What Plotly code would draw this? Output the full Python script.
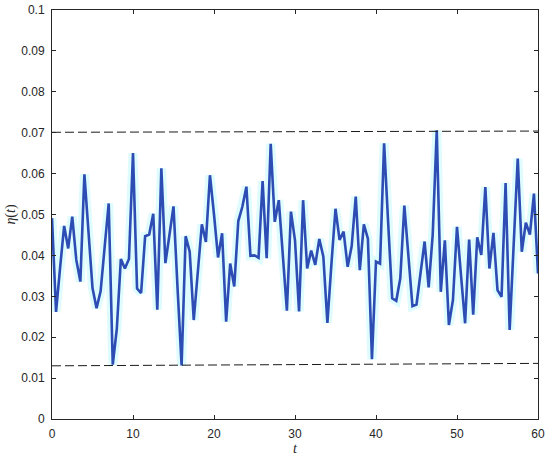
import plotly.graph_objects as go

t_values = [i * 0.5 for i in range(121)]
eta_values = [
    0.0491, 0.0262, 0.0370, 0.0472, 0.0417, 0.0495, 0.0389, 0.0336, 0.0598, 0.0460,
    0.0320, 0.0271, 0.0312, 0.0420, 0.0527, 0.0133, 0.0220, 0.0391, 0.0368, 0.0391,
    0.0650, 0.0319, 0.0308, 0.0447, 0.0451, 0.0502, 0.0267, 0.0613, 0.0381, 0.0450,
    0.0520, 0.0320, 0.0131, 0.0447, 0.0409, 0.0242, 0.0360, 0.0476, 0.0433, 0.0596,
    0.0500, 0.0395, 0.0454, 0.0238, 0.0380, 0.0324, 0.0484, 0.0519, 0.0568, 0.0399,
    0.0400, 0.0394, 0.0582, 0.0393, 0.0673, 0.0482, 0.0535, 0.0400, 0.0265, 0.0507,
    0.0437, 0.0263, 0.0535, 0.0368, 0.0412, 0.0377, 0.0440, 0.0397, 0.0235, 0.0380,
    0.0514, 0.0438, 0.0458, 0.0372, 0.0423, 0.0544, 0.0364, 0.0476, 0.0441, 0.0146,
    0.0385, 0.0380, 0.0674, 0.0480, 0.0295, 0.0289, 0.0344, 0.0522, 0.0400, 0.0276,
    0.0280, 0.0357, 0.0434, 0.0322, 0.0450, 0.0706, 0.0311, 0.0437, 0.0230, 0.0291,
    0.0470, 0.0350, 0.0234, 0.0439, 0.0255, 0.0444, 0.0401, 0.0567, 0.0368, 0.0455,
    0.0315, 0.0299, 0.0577, 0.0218, 0.0430, 0.0637, 0.0409, 0.0480, 0.0451, 0.0551,
    0.0356,
]
bound_t = [0, 60]
upper_bound = [0.0701, 0.0704]
lower_bound = [0.0130, 0.0136]

x_ticks = [0, 10, 20, 30, 40, 50, 60]
y_ticks = [0, 0.01, 0.02, 0.03, 0.04, 0.05, 0.06, 0.07, 0.08, 0.09, 0.1]
y_ticktext = ["0", "0.01", "0.02", "0.03", "0.04", "0.05", "0.06", "0.07", "0.08", "0.09", "0.1"]

fig = go.Figure()
fig.add_trace(go.Scatter(x=t_values, y=eta_values, mode="lines",
                         line=dict(color="rgba(190,248,252,0.5)", width=9),
                         hoverinfo="skip", showlegend=False))
fig.add_trace(go.Scatter(x=t_values, y=eta_values, mode="lines",
                         line=dict(color="#2d4cb4", width=2.6), showlegend=False))
for b in (upper_bound, lower_bound):
    fig.add_trace(go.Scatter(x=bound_t, y=b, mode="lines",
                             line=dict(color="#1a1a1a", width=1, dash="9px,4px"),
                             showlegend=False))

axis_common = dict(showgrid=False, zeroline=False, showline=True, linecolor="#262626",
                   linewidth=1, mirror="ticks", ticks="inside", ticklen=4, automargin=False,
                   tickcolor="#262626", ticklabelstandoff=4,
                   tickfont=dict(family="Liberation Sans, Arial", size=12, color="#262626"))
fig.update_xaxes(range=[0, 60], tickvals=x_ticks, **axis_common,
                 title=dict(text="<i>t</i>", font=dict(family="Liberation Serif", size=14, color="#262626"),
                            standoff=2))
fig.update_yaxes(range=[0, 0.1], tickvals=y_ticks, ticktext=y_ticktext, **axis_common,
                 title=dict(text="<i>η</i>(<i>t</i>)", font=dict(family="Liberation Serif", size=14, color="#262626"),
                            standoff=2))
fig.update_layout(width=550, height=459, margin=dict(l=52, r=12, t=10, b=40, autoexpand=False),
                  plot_bgcolor="white", paper_bgcolor="white")
fig.write_html("out.html", config={"displayModeBar": False},
               post_script="document.body.style.margin='0px';")
